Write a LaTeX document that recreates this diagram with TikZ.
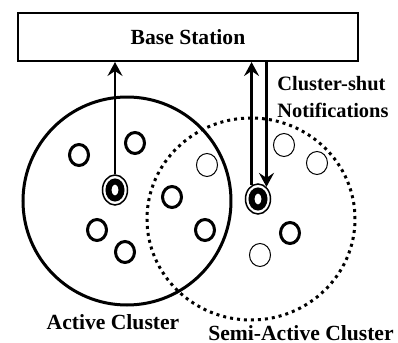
\documentclass[tikz,border=0pt]{standalone}
\usepackage{fontspec}
\setmainfont{Liberation Serif}
\usetikzlibrary{arrows.meta,shapes.geometric}

\begin{document}
\begin{tikzpicture}[x=0.5pt, y=-0.5pt,
    every node/.style={font=\fontsize{10.8}{12}\selectfont\bfseries},
    sensor/.style={ellipse, draw, line width=1.5pt, minimum width=9.5pt, minimum height=10.5pt, inner sep=0pt},
    idle/.style={ellipse, draw, line width=0.5pt, minimum width=10.5pt, minimum height=11.5pt, inner sep=0pt},
    head/.style={ellipse, draw, line width=0.75pt, minimum width=12.5pt, minimum height=15pt, inner sep=0pt},
    core/.style={ellipse, draw, line width=3pt, minimum width=6.5pt, minimum height=8.5pt, inner sep=0pt},
    note/.style={anchor=base west, inner sep=0pt, font=\fontsize{10.2}{12}\selectfont\bfseries},
    flow/.style={line width=1.2pt, -{Stealth[length=7pt, width=7.5pt, inset=2.5pt]}}]
    \useasboundingbox (0,0) rectangle (398,343);

    % Clusters
    \node[ellipse, draw, line width=1.5pt, minimum width=104pt, minimum height=104pt] (active) at (127,201) {};
    \node[ellipse, draw, line width=1.5pt, dash pattern=on 1.5pt off 2pt, minimum width=104pt, minimum height=101pt] (semi) at (251,219) {};
    \node[anchor=base] (activeLbl) at (113,329) {Active Cluster};
    \node[anchor=base] (semiLbl) at (301,340) {Semi-Active Cluster};

    % Base station
    \node[draw, line width=1pt, minimum width=170pt, minimum height=24pt] (bs) at (188,37) {Base Station};

    % Cluster heads
    \node[head] (hA) at (115,190) {};
    \node[core] (hAc) at (hA) {};
    \node[head] (hS) at (258,199) {};
    \node[core] (hSc) at (hS) {};

    % Active sensors
    \node[sensor] (a1) at (79,155) {};
    \node[sensor] (a2) at (135,143) {};
    \node[sensor] (a3) at (97,230) {};
    \node[sensor] (a4) at (125,252) {};
    \node[sensor] (a5) at (172,197) {};
    \node[sensor] (a6) at (205,230) {};
    \node[sensor] (a7) at (290,233) {};

    % Sleeping sensors
    \node[idle] (s1) at (207,165) {};
    \node[idle] (s2) at (284,145) {};
    \node[idle] (s3) at (317,163) {};
    \node[idle] (s4) at (260,255) {};

    % Links to the base station
    \draw[flow] (hA.north) -- (bs.south -| hA.north);
    \draw[flow] (hS.115) -- (bs.south -| hS.115);
    \draw[flow] (bs.south -| hS.55) -- (hS.55);
    \node[note] (shut1) at (277,90) {Cluster-shut};
    \node[note] (shut2) at (277,117) {Notifications};
\end{tikzpicture}
\end{document}
